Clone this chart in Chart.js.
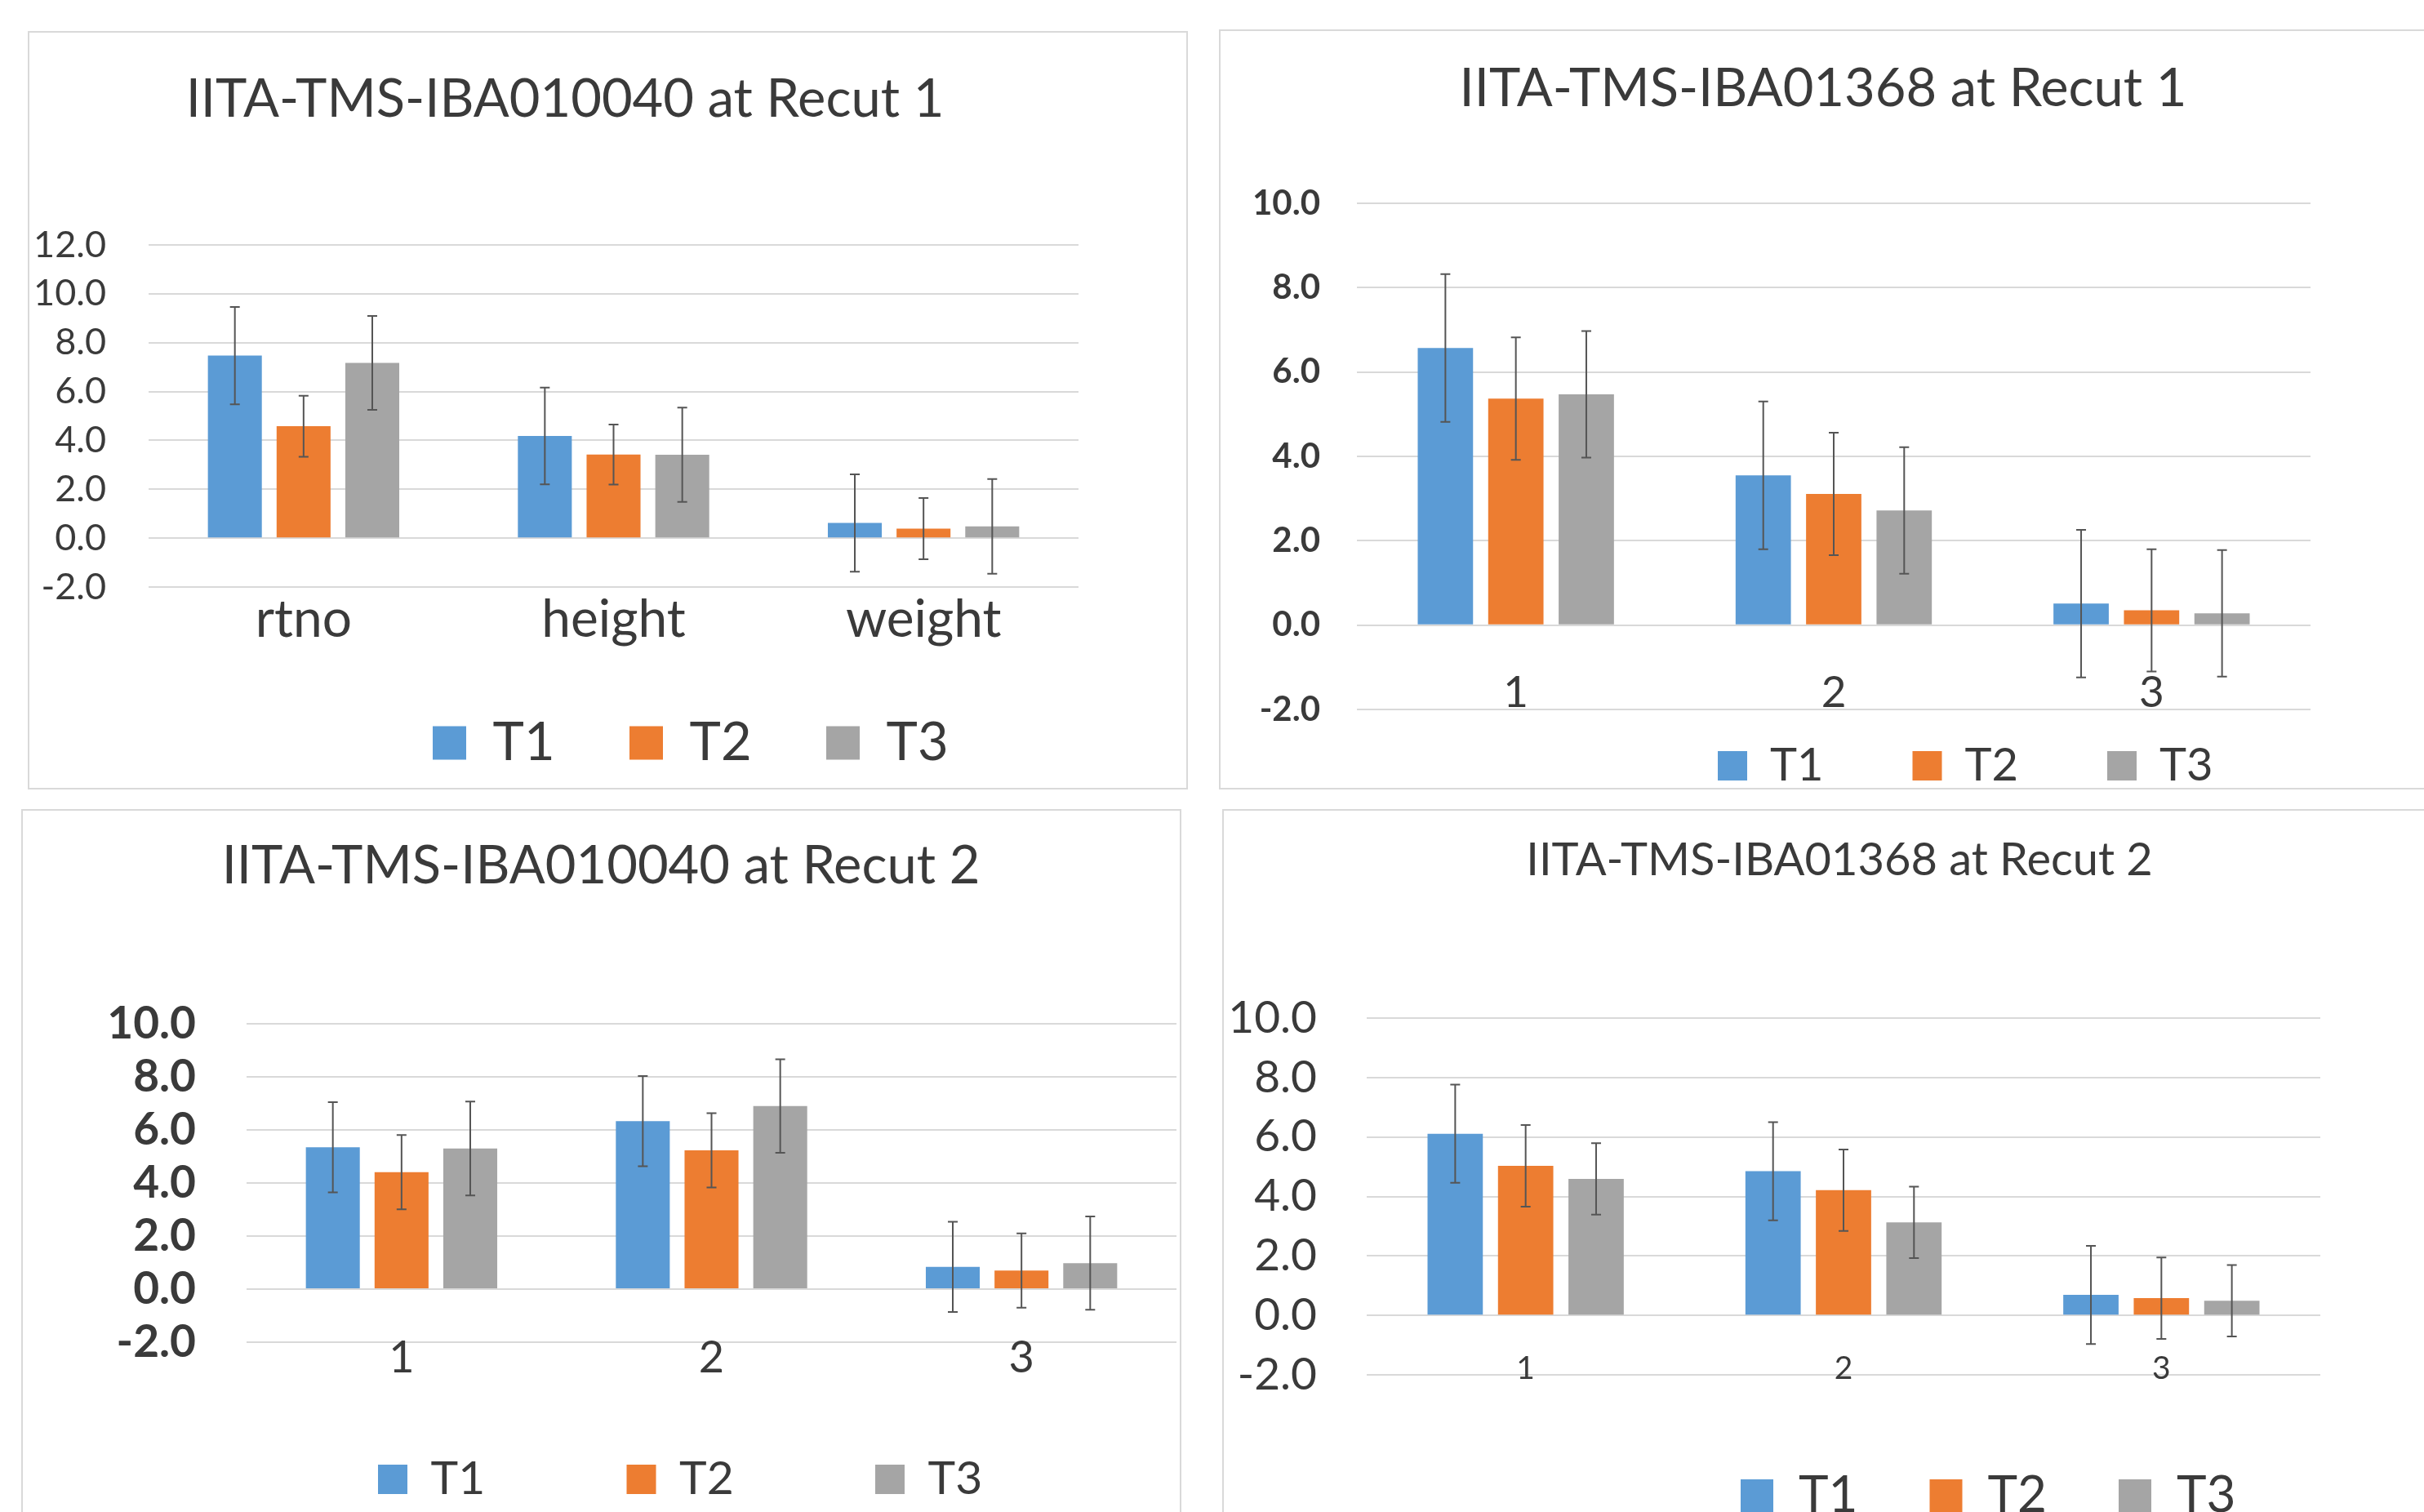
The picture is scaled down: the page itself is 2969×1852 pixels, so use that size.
<!DOCTYPE html>
<html>
<head>
<meta charset="utf-8">
<script src="https://cdn.jsdelivr.net/npm/chart.js@4.4.1/dist/chart.umd.min.js"></script>
<style>
html, body { margin: 0; padding: 0; background: #fff; overflow: hidden; width: 2969px; height: 1852px; }
.panel { position: absolute; border: 2px solid #d9d9d9; box-sizing: border-box; }
.panel canvas { position: absolute; left: -2px; top: -2px; }
</style>
</head>
<body>
<div class="panel" style="left:34px;top:38px;width:1421px;height:929px"><canvas id="c1"></canvas></div>
<div class="panel" style="left:1493px;top:36px;width:1500px;height:931px"><canvas id="c2"></canvas></div>
<div class="panel" style="left:26px;top:991px;width:1421px;height:900px"><canvas id="c3"></canvas></div>
<div class="panel" style="left:1497px;top:991px;width:1500px;height:900px"><canvas id="c4"></canvas></div>
<script>
// data
const seriesNames = ['T1', 'T2', 'T3'];
const traitLabels = ['rtno', 'height', 'weight'];
const stageLabels = ['1', '2', '3'];

// IITA-TMS-IBA010040 at Recut 1
const a1T1 = [7.47, 4.18, 0.62];
const a1T2 = [4.58, 3.42, 0.39];
const a1T3 = [7.17, 3.41, 0.48];
const a1T1err = [1.99, 1.98, 1.99];
const a1T2err = [1.25, 1.23, 1.25];
const a1T3err = [1.92, 1.93, 1.94];

// IITA-TMS-IBA01368 at Recut 1
const b1T1 = [6.57, 3.55, 0.51];
const b1T2 = [5.37, 3.11, 0.35];
const b1T3 = [5.47, 2.72, 0.28];
const b1T1err = [1.75, 1.75, 1.75];
const b1T2err = [1.45, 1.45, 1.45];
const b1T3err = [1.50, 1.50, 1.50];

// IITA-TMS-IBA010040 at Recut 2
const a2T1 = [5.35, 6.33, 0.84];
const a2T2 = [4.41, 5.23, 0.70];
const a2T3 = [5.30, 6.90, 0.98];
const a2T1err = [1.70, 1.70, 1.70];
const a2T2err = [1.40, 1.40, 1.40];
const a2T3err = [1.77, 1.76, 1.76];

// IITA-TMS-IBA01368 at Recut 2
const b2T1 = [6.11, 4.85, 0.69];
const b2T2 = [5.03, 4.21, 0.58];
const b2T3 = [4.59, 3.13, 0.49];
const b2T1err = [1.65, 1.65, 1.65];
const b2T2err = [1.37, 1.37, 1.37];
const b2T3err = [1.20, 1.20, 1.20];

const colors = ['#5b9bd5', '#ed7d31', '#a5a5a5'];
const textColor = '#3a3a3a';

Chart.defaults.font.family = 'Lato';
Chart.defaults.color = textColor;

const errorBars = {
    id: 'errorBars',
    afterDatasetsDraw(chart) {
        const ctx = chart.ctx;
        const y = chart.scales.y;
        ctx.save();
        ctx.strokeStyle = '#555555';
        ctx.lineWidth = 2;
        chart.data.datasets.forEach((ds, i) => {
            chart.getDatasetMeta(i).data.forEach((bar, j) => {
                const top = y.getPixelForValue(ds.data[j] + ds.errors[j]);
                const bot = y.getPixelForValue(ds.data[j] - ds.errors[j]);
                ctx.beginPath();
                ctx.moveTo(bar.x, top); ctx.lineTo(bar.x, bot);
                ctx.moveTo(bar.x - 6, top); ctx.lineTo(bar.x + 6, top);
                ctx.moveTo(bar.x - 6, bot); ctx.lineTo(bar.x + 6, bot);
                ctx.stroke();
            });
        });
        ctx.restore();
    }
};

function textWidth(str, size) {
    const c = document.createElement('canvas').getContext('2d');
    c.font = 'normal ' + size + 'px Lato';
    return c.measureText(str).width;
}

function makeChart(id, p, labels, values, errors) {
    const cv = document.getElementById(id);
    cv.width = p.w; cv.height = p.h;
    cv.style.width = p.w + 'px'; cv.style.height = p.h + 'px';

    const lh = p.titleSize * 1.2;
    const pad = p.legendGap - (p.box + p.legendSize / 2 + textWidth('T1', p.legendSize));

    const placer = {
        id: 'placer',
        afterLayout(chart) {
            const t = chart.titleBlock;
            const dx = p.titleX - (t.left + t.right) / 2;
            t.left += dx; t.right += dx;
            const l = chart.legend;
            const w = l.right - l.left;
            l.left = p.legendX - pad; l.right = l.left + w;
            const itemH = Math.max(p.legendSize, p.box);
            const hgt = l.bottom - l.top;
            l.top = p.legendY - pad - itemH / 2; l.bottom = l.top + hgt;
        }
    };

    return new Chart(cv, {
        type: 'bar',
        data: {
            labels: labels,
            datasets: seriesNames.map((name, i) => ({
                label: name,
                data: values[i],
                errors: errors[i],
                backgroundColor: colors[i],
                borderWidth: 0,
                categoryPercentage: 0.665,
                barPercentage: 0.785
            }))
        },
        options: {
            responsive: false,
            animation: false,
            layout: { padding: { left: 0, top: 0, bottom: 0, right: p.w - p.area.right } },
            plugins: {
                tooltip: { enabled: false },
                title: {
                    display: true,
                    text: p.title,
                    color: textColor,
                    font: { size: p.titleSize, weight: 'normal' },
                    padding: { top: p.titleY - lh / 2, bottom: p.area.top - p.titleY - lh / 2 }
                },
                legend: {
                    position: 'bottom',
                    align: 'start',
                    labels: {
                        color: textColor,
                        font: { size: p.legendSize },
                        boxWidth: p.box,
                        boxHeight: p.box,
                        padding: pad
                    }
                }
            },
            scales: {
                x: {
                    grid: { display: false },
                    border: { display: false },
                    ticks: { color: textColor, font: { size: p.xSize }, padding: p.xPad, maxRotation: 0, autoSkip: false },
                    afterFit: s => {
                        s.height = p.h - s.chart.legend.height - p.area.bottom;
                        // labels sit partly inside the plot, so do not clip them to the axis box
                        s._computeLabelArea = () => undefined;
                    }
                },
                y: {
                    min: -2,
                    max: p.yMax,
                    grid: { color: '#d9d9d9', lineWidth: 2, drawTicks: false },
                    border: { display: false },
                    ticks: {
                        stepSize: 2,
                        autoSkip: false,
                        color: textColor,
                        padding: p.yPad,
                        font: { size: p.ySize, weight: p.yWeight },
                        callback: v => v.toFixed(1)
                    },
                    afterFit: s => { s.width = p.area.left; }
                }
            }
        },
        plugins: [errorBars, placer]
    });
}

makeChart('c1', {
    w: 1421, h: 1229, area: { left: 148, right: 1287, top: 262, bottom: 681 }, yMax: 12,
    ySize: 45, yWeight: 'normal', yPad: 52, xSize: 64, xPad: -6,
    title: 'IITA-TMS-IBA010040 at Recut 1', titleSize: 65, titleX: 658, titleY: 84,
    legendSize: 65, box: 41, legendX: 496, legendY: 872, legendGap: 241
}, traitLabels, [a1T1, a1T2, a1T3], [a1T1err, a1T2err, a1T3err]);

makeChart('c2', {
    w: 1500, h: 1231, area: { left: 169, right: 1337, top: 213, bottom: 833 }, yMax: 10,
    ySize: 42, yWeight: 'bold', yPad: 45, xSize: 53, xPad: -60,
    title: 'IITA-TMS-IBA01368 at Recut 1', titleSize: 65, titleX: 740, titleY: 73,
    legendSize: 56, box: 36, legendX: 611, legendY: 902, legendGap: 238.5
}, stageLabels, [b1T1, b1T2, b1T3], [b1T1err, b1T2err, b1T3err]);

makeChart('c3', {
    w: 1421, h: 1200, area: { left: 276, right: 1415, top: 263, bottom: 653 }, yMax: 10,
    ySize: 55, yWeight: 'bold', yPad: 62, xSize: 54, xPad: -21,
    title: 'IITA-TMS-IBA010040 at Recut 2', titleSize: 65, titleX: 710, titleY: 70,
    legendSize: 57, box: 36, legendX: 437, legendY: 821, legendGap: 304.5
}, stageLabels, [a2T1, a2T2, a2T3], [a2T1err, a2T2err, a2T3err]);

makeChart('c4', {
    w: 1500, h: 1200, area: { left: 177, right: 1345, top: 256, bottom: 693 }, yMax: 10,
    ySize: 55, yWeight: 'normal', yPad: 61, xSize: 39, xPad: -39,
    title: 'IITA-TMS-IBA01368 at Recut 2', titleSize: 56, titleX: 756, titleY: 63,
    legendSize: 62, box: 40, legendX: 635, legendY: 841, legendGap: 231.5
}, stageLabels, [b2T1, b2T2, b2T3], [b2T1err, b2T2err, b2T3err]);
</script>
</body>
</html>
